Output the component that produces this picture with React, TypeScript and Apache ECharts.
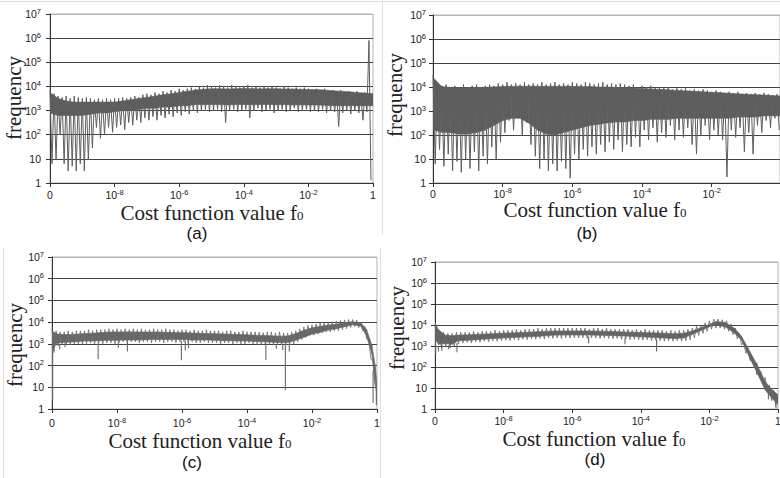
import React, { useEffect, useRef } from 'react';
import * as echarts from 'echarts';

// ---------- texts ----------
const xTickLabels = ['0', '10^-8', '10^-6', '10^-4', '10^-2', '1'];
const yTickLabels = ['1', '10', '10^2', '10^3', '10^4', '10^5', '10^6', '10^7'];
const panelLabels = ['(a)', '(b)', '(c)', '(d)'];
const xTitleMain = 'Cost function value f';
const xTitleSub = '0';
const yTitle = 'frequency';

// ---------- panel (a) ----------
const aSpikeHi = [7100, 5000, 4000, 3500, 4000, 3200, 4000, 3500, 3200, 3500,
  3200, 2800, 3200, 2800, 3200, 2800, 3200, 3200, 3500, 3200,
  3500, 4000, 3500, 4500, 5000, 4500, 5600, 5000, 6300, 5600,
  7100, 6300, 8000, 7100, 8000, 8900, 8000, 10000, 8900, 11200,
  10000, 8900, 11200, 10000, 8900, 11200, 10000, 8900, 10000, 11200,
  8900, 10000, 8900, 10000, 8900, 10000, 8900, 8000, 10000, 8900,
  8000, 8900, 8000, 8900, 8000, 7100, 8000, 7100, 8000, 6300,
  7100, 6300, 7100, 5600, 6300, 5600, 6300, 5000, 5600, 800000];
const aSpikeLo = [6.3, 8.9, 100, 6.3, 3.2, 5, 3.2, 6.3, 3.2, 8.9,
  28, 200, 71, 100, 200, 126, 200, 250, 160, 320,
  250, 400, 320, 500, 400, 560, 400, 630, 500, 710,
  560, 800, 630, 890, 710, 1000, 800, 1000, 1120, 890,
  1000, 1120, 890, 320, 1000, 1120, 890, 1000, 1120, 500,
  1000, 1260, 890, 1000, 1120, 800, 1000, 1120, 890, 1000,
  1260, 890, 1000, 1120, 890, 1000, 890, 1120, 800, 1000,
  890, 220, 800, 1000, 710, 1000, 800, 400, 890, 1.3];
const aCoreLo = [800, 630, 630, 630, 630, 710, 800, 800, 890, 1000,
  1000, 1120, 1260, 1260, 1410, 1410, 1580, 1580, 1780, 1780,
  1780, 1780, 1700, 1780, 1800, 1750, 1780, 1800, 1750, 1780,
  1700, 1750, 1700, 1700, 1650, 1600, 1600, 1600, 1580, 1580,
  1580];
const aCoreHi = [5600, 3200, 2500, 2240, 2240, 2240, 2240, 2240, 2240, 2500,
  2800, 3200, 3500, 4000, 4500, 5000, 5600, 6300, 7100, 7600,
  8000, 8000, 7800, 8000, 8200, 8000, 7900, 8000, 8000, 7800,
  7800, 7600, 7500, 7400, 7100, 6700, 6300, 6000, 5600, 5300,
  5000];

// ---------- panel (b) ----------
const bSpikeHi = [32000, 14100, 11200, 12600, 10000, 11200, 10000, 12600, 10000, 11200,
  12600, 10000, 11200, 12600, 11200, 14100, 12600, 15800, 12600, 14100,
  12600, 15800, 12600, 14100, 12600, 15800, 12600, 14100, 15800, 12600,
  14100, 12600, 15800, 14100, 12600, 15800, 14100, 12600, 14100, 15800,
  12600, 14100, 12600, 14100, 12600, 11200, 12600, 10000, 11200, 10000,
  11200, 8900, 10000, 8900, 10000, 8000, 8900, 8000, 8900, 7100,
  8000, 7100, 8000, 7100, 6300, 7100, 6300, 5600, 6300, 5600,
  6300, 5000, 5600, 5000, 5600, 5000, 5600, 5000, 4500, 5000];
const bSpikeLo = [6.3, 25, 5, 16, 3.2, 8, 2.8, 10, 4, 20,
  3.2, 13, 6.3, 32, 10, 50, 126, 400, 160, 500,
  100, 320, 40, 13, 4, 10, 3.2, 6.3, 3.2, 8,
  4, 1.6, 16, 10, 25, 13, 32, 16, 40, 20,
  50, 25, 63, 20, 40, 32, 80, 32, 160, 63,
  200, 50, 126, 80, 250, 63, 160, 80, 200, 40,
  16, 100, 250, 63, 160, 100, 63, 1.8, 160, 80,
  200, 20, 126, 16, 250, 126, 400, 200, 500, 160];
const bCoreLo = [160, 130, 126, 110, 110, 126, 160, 250, 400, 500,
  500, 320, 160, 110, 100, 126, 160, 200, 250, 280,
  320, 350, 350, 400, 400, 450, 450, 450, 500, 500,
  500, 500, 500, 500, 500, 560, 560, 560, 630, 630,
  630];
const bCoreHi = [25000, 10500, 9500, 9500, 9500, 9500, 9500, 10000, 10500, 10700,
  10700, 10700, 10700, 10700, 10700, 10700, 10700, 10500, 10500, 10000,
  10000, 9500, 9300, 9100, 8700, 8300, 8000, 7600, 7200, 6900,
  6600, 6300, 6000, 5800, 5500, 5200, 5000, 4800, 4600, 4400,
  4200];

// ---------- panel (c) ----------
const cCoreX = [0, 0.06, 0.125, 0.25, 0.375, 0.5, 0.625, 0.75, 0.875, 1.0,
  1.125, 1.25, 1.375, 1.5, 1.625, 1.75, 1.875, 2.0, 2.125, 2.25,
  2.375, 2.5, 2.625, 2.75, 2.875, 3.0, 3.125, 3.25, 3.375, 3.5,
  3.625, 3.75, 3.875, 4.0, 4.125, 4.25, 4.375, 4.5, 4.625, 4.75,
  4.84, 4.92, 4.97, 5.0];
const cCoreLo = [400, 1000, 1150, 1200, 1250, 1350, 1350, 1400, 1450, 1450,
  1500, 1500, 1500, 1600, 1600, 1600, 1600, 1600, 1500, 1500,
  1500, 1450, 1400, 1400, 1350, 1350, 1300, 1250, 1200, 1150,
  1150, 1450, 2000, 2800, 3400, 4300, 5000, 6200, 7500, 6600,
  2300, 350, 22, 1.8];
const cCoreHi = [4000, 3000, 2700, 2700, 2800, 3000, 3100, 3300, 3500, 3550,
  3550, 3550, 3500, 3500, 3500, 3400, 3300, 3300, 3200, 3100,
  3000, 2950, 2850, 2750, 2700, 2650, 2500, 2450, 2350, 2250,
  2300, 3000, 4200, 5500, 6400, 7300, 8000, 9400, 10300, 9400,
  4600, 900, 110, 15];
const cNoiseHi = [5000, 4000, 3550, 3550, 4000, 3550, 4000, 4000, 4000, 4500,
  4000, 4500, 4500, 4500, 5000, 4500, 5000, 4500, 5000, 4500,
  5000, 4500, 5000, 4500, 4500, 5000, 4500, 4500, 5000, 4500,
  4500, 4000, 4500, 4500, 4000, 4500, 4000, 4000, 4500, 4000,
  4000, 4000, 3550, 4000, 4000, 3550, 3550, 4000, 3550, 3550,
  3550, 3550, 3200, 3550, 3550, 3200, 3550, 3200, 3200, 3550,
  4000, 4800, 6000, 7100, 7600, 8300, 9100, 9500, 10000, 10500,
  11200, 12000, 12600, 13200, 13200, 12600, 10000, 6300, 1600, 160];
const cNoiseLo = [400, 800, 900, 1000, 900, 1000, 1000, 900, 1000, 1120,
  1000, 1120, 1000, 1120, 1120, 1000, 1120, 1260, 1120, 1260,
  1260, 1120, 1260, 1260, 1120, 1260, 1260, 1120, 1260, 1260,
  1120, 1260, 1260, 1120, 1260, 1120, 1120, 1260, 1120, 1120,
  1120, 1000, 1120, 1120, 1000, 1120, 1000, 1000, 1120, 1000,
  1000, 890, 1000, 1000, 890, 1000, 890, 890, 890, 1000,
  1260, 1600, 2000, 2500, 2500, 2800, 3200, 3550, 3550, 4000,
  4000, 4500, 5000, 5600, 6300, 5600, 4000, 1600, 200, 12];
const cDipX = [0.01, 0.12, 0.2, 0.71, 1.02, 1.16, 1.99, 2.05, 2.1, 3.29, 3.45, 3.55, 3.59, 3.65, 4.94, 4.99];
const cDipLow = [2.5, 560, 700, 195, 660, 440, 175, 500, 620, 180, 600, 520, 7.5, 450, 1.9, 1.5];
const cDipTop = [1000, 1000, 1100, 1200, 1300, 1300, 1400, 1400, 1300, 1100, 1000, 1000, 1000, 1000, 60, 5];

// ---------- panel (d) ----------
const dCoreX = [0, 0.05, 0.15, 0.25, 0.34, 0.5, 0.75, 1.0, 1.25, 1.5,
  1.75, 2.0, 2.25, 2.5, 2.75, 3.0, 3.25, 3.5, 3.625, 3.75,
  3.875, 4.0, 4.1, 4.23, 4.37, 4.47, 4.59, 4.71, 4.81, 4.91, 5.0];
const dCoreLo = [2400, 1200, 1300, 1200, 1800, 1900, 2150, 2400, 2650, 2900,
  3300, 3350, 3350, 3200, 3000, 2750, 2500, 2300, 2400, 3600,
  5400, 8300, 10000, 8300, 4100, 1900, 260, 42, 8.4, 3.3, 1.6];
const dCoreHi = [13000, 5900, 3300, 3100, 3300, 3400, 3750, 4100, 4400, 4800,
  5200, 5200, 5200, 5000, 4700, 4400, 4200, 3800, 4000, 5200,
  7400, 10700, 14500, 13200, 6900, 2800, 550, 104, 21, 8.3, 4.8];
const dNoiseHi = [10000, 5600, 4500, 4000, 4000, 4500, 4500, 4500, 4500, 5000,
  4500, 5000, 5000, 5000, 5600, 5000, 5600, 5600, 5600, 6300,
  5600, 6300, 6300, 6300, 7100, 6300, 7100, 7100, 7100, 7100,
  7100, 7100, 7100, 7100, 7100, 7100, 6300, 7100, 7100, 6300,
  7100, 6300, 6300, 6300, 6300, 6300, 5600, 6300, 5600, 6300,
  5600, 5600, 5600, 5600, 5000, 5600, 5000, 5600, 5600, 6300,
  7100, 8900, 10000, 12600, 15800, 19000, 19000, 17800, 15800, 11200,
  7100, 4000, 1600, 800, 320, 160, 63, 32, 14, 8];
const dNoiseLo = [1600, 800, 900, 800, 1000, 1250, 1400, 1500, 1400, 1600,
  1500, 1700, 1600, 1800, 1700, 1800, 1900, 1800, 2000, 1900,
  2100, 2000, 2200, 2100, 2300, 2200, 2400, 2300, 2400, 2300,
  2500, 2400, 2500, 2400, 2500, 2300, 2500, 2400, 2300, 2400,
  2300, 2200, 2300, 2100, 2200, 2000, 2100, 2000, 1900, 2000,
  1800, 1900, 1800, 1700, 1800, 1700, 1800, 1700, 1800, 2000,
  2500, 3200, 4000, 5000, 6300, 7100, 7100, 6300, 5000, 3500,
  2200, 1100, 450, 200, 90, 40, 16, 6, 2.5, 1.3];
const dDipX = [0.01, 0.05, 0.1, 0.2, 0.32, 2.24, 2.77, 3.23, 4.69, 4.86, 4.97];
const dDipLow = [400, 550, 600, 700, 500, 1350, 1200, 550, 43, 2.8, 1.1];
const dDipTop = [2000, 1000, 1100, 1100, 1400, 2800, 2500, 2100, 150, 10, 3];

// ---------- styling ----------
const SANS = '"Liberation Sans", Arial, sans-serif';
const SERIF = '"Liberation Serif", "Times New Roman", serif';
const BIN = 0.0625;

const grids = [
  { left: 50, top: 14, width: 323, height: 169 },
  { left: 433, top: 15, width: 347, height: 168 },
  { left: 52, top: 257, width: 325, height: 152 },
  { left: 435, top: 262, width: 343, height: 147 },
];
const xMaxes = [5, 4.98, 5, 5];
const xLabelMargins = [5, 3.5, 7, 5];
const yLabelMargins = [9, 7, 8, 8];
const dataColors = ['#5e5e5e', '#5e5e5e', '#686868', '#656565'];
const xTitlePos = [[212, 213], [595, 210], [200, 441], [594, 439]];
const yTitlePos = [[14, 98], [395, 95], [15, 345], [397, 328]];
const panelLabelPos = [[197, 233], [587, 233], [192, 462], [595, 459]];

function fmtTick(s: string) {
  const parts = s.split('^');
  if (parts.length === 1) return `{b|${parts[0]}}`;
  return `{b|${parts[0]}}{s|${parts[1]}}`;
}

const tickRich = {
  b: { fontSize: 10.5, lineHeight: 14, fontFamily: SANS, color: '#222' },
  s: { fontSize: 7.5, lineHeight: 7, verticalAlign: 'top', fontFamily: SANS, color: '#222' },
};

function bandSeries(g: number, xs: number[], lo: number[], hi: number[], color: string) {
  const data = xs.map((x, i) => [x, lo[i], hi[i]]);
  return {
    type: 'custom',
    xAxisIndex: g,
    yAxisIndex: g,
    clip: true,
    silent: true,
    data,
    encode: { x: 0, y: [1, 2] },
    renderItem: (params: any, api: any) => {
      const i = params.dataIndex;
      if (i >= data.length - 1) return null;
      const cur = data[i];
      const nxt = data[i + 1];
      const p1 = api.coord([cur[0], cur[2]]);
      const p2 = api.coord([nxt[0], nxt[2]]);
      const p3 = api.coord([nxt[0], nxt[1]]);
      const p4 = api.coord([cur[0], cur[1]]);
      return {
        type: 'polygon',
        shape: { points: [p1, p2, p3, p4] },
        style: { fill: color, stroke: color, lineWidth: 0.6 },
      };
    },
  };
}

// zigzag trace: each bin goes up to its high reading, then down to its low reading
function zigzagSeries(g: number, lo: number[], hi: number[], color: string, w: number) {
  const data: number[][] = [];
  lo.forEach((l, i) => {
    data.push([i * BIN, hi[i]]);
    data.push([(i + 0.5) * BIN, l]);
  });
  return {
    type: 'line',
    xAxisIndex: g,
    yAxisIndex: g,
    data,
    symbol: 'none',
    showSymbol: false,
    clip: true,
    silent: true,
    lineStyle: { color, width: w },
  };
}

function dipSeries(g: number, xs: number[], lo: number[], top: number[], color: string, w: number) {
  const data = xs.map((x, i) => [x, lo[i], top[i]]);
  return {
    type: 'custom',
    xAxisIndex: g,
    yAxisIndex: g,
    clip: true,
    silent: true,
    data,
    encode: { x: 0, y: [1, 2] },
    renderItem: (params: any, api: any) => {
      const a = api.coord([api.value(0), api.value(1)]);
      const b = api.coord([api.value(0), api.value(2)]);
      return {
        type: 'line',
        shape: { x1: a[0], y1: a[1], x2: b[0], y2: b[1] },
        style: { stroke: color, lineWidth: w },
      };
    },
  };
}

const coreStepX = (n: number) => Array.from({ length: n }, (_, i) => i * 0.125);

export default function App() {
  const ref = useRef<HTMLDivElement>(null);

  useEffect(() => {
    document.body.style.margin = '0';
    if (!ref.current) return;
    const chart = echarts.init(ref.current, undefined, { renderer: 'svg' });

    const xAxes = grids.map((_, g) => ({
      gridIndex: g,
      type: 'value',
      min: 0,
      max: xMaxes[g],
      interval: 1,
      axisLine: { show: true, onZero: false, lineStyle: { color: '#333', width: 1 } },
      axisTick: { show: true, length: 4, lineStyle: { color: '#333' } },
      splitLine: { show: false },
      axisLabel: {
        margin: xLabelMargins[g],
        lineHeight: 14,
        showMaxLabel: g !== 1,
        formatter: (v: number) => {
          const k = Math.round(v);
          if (Math.abs(v - k) > 1e-6 || k < 0 || k >= xTickLabels.length) return '';
          return fmtTick(xTickLabels[k]);
        },
        rich: tickRich,
      },
    }));

    const yAxes = grids.map((_, g) => ({
      gridIndex: g,
      type: 'log',
      logBase: 10,
      min: 1,
      max: 10000000,
      axisLine: { show: true, lineStyle: { color: '#333', width: 1 } },
      axisTick: { show: true, length: 4, lineStyle: { color: '#333' } },
      splitLine: {
        show: true,
        lineStyle: {
          color: ['#333', '#444', '#444', '#444', '#444', '#444', '#444', '#b4b4b4'],
          width: 1,
        },
      },
      axisLabel: {
        margin: yLabelMargins[g],
        lineHeight: 14,
        formatter: (v: number) => {
          const k = Math.round(Math.log10(v));
          return fmtTick(yTickLabels[k] ?? '');
        },
        rich: tickRich,
      },
    }));

    const series: any[] = [
      bandSeries(0, coreStepX(aCoreLo.length), aCoreLo, aCoreHi, dataColors[0]),
      zigzagSeries(0, aSpikeLo, aSpikeHi, dataColors[0], 1),
      bandSeries(1, coreStepX(bCoreLo.length), bCoreLo, bCoreHi, dataColors[1]),
      zigzagSeries(1, bSpikeLo, bSpikeHi, dataColors[1], 1),
      bandSeries(2, cCoreX, cCoreLo, cCoreHi, dataColors[2]),
      zigzagSeries(2, cNoiseLo, cNoiseHi, dataColors[2], 0.8),
      dipSeries(2, cDipX, cDipLow, cDipTop, dataColors[2], 1.1),
      bandSeries(3, dCoreX, dCoreLo, dCoreHi, dataColors[3]),
      zigzagSeries(3, dNoiseLo, dNoiseHi, dataColors[3], 0.8),
      dipSeries(3, dDipX, dDipLow, dDipTop, dataColors[3], 1.1),
    ];

    const graphics: any[] = [];
    const faint = { stroke: '#dedede', lineWidth: 1 };
    graphics.push({ type: 'line', shape: { x1: 0, y1: 1.5, x2: 780, y2: 1.5 }, style: faint, silent: true });
    graphics.push({ type: 'line', shape: { x1: 382.5, y1: 0, x2: 382.5, y2: 235 }, style: faint, silent: true });
    graphics.push({ type: 'line', shape: { x1: 3.5, y1: 248, x2: 3.5, y2: 478 }, style: faint, silent: true });
    graphics.push({ type: 'line', shape: { x1: 380.5, y1: 248, x2: 380.5, y2: 478 }, style: faint, silent: true });

    for (let g = 0; g < 4; g++) {
      graphics.push({
        type: 'text',
        x: xTitlePos[g][0],
        y: xTitlePos[g][1],
        silent: true,
        style: {
          text: `{m|${xTitleMain}}{u|${xTitleSub}}`,
          align: 'center',
          verticalAlign: 'middle',
          textAlign: 'center',
          textVerticalAlign: 'middle',
          rich: {
            m: { fontSize: 21, fontFamily: SERIF, lineHeight: 18, fill: '#222', color: '#222' },
            u: { fontSize: 13, fontFamily: SERIF, lineHeight: 6, verticalAlign: 'bottom', fill: '#222', color: '#222' },
          },
        },
      });
      graphics.push({
        type: 'text',
        x: yTitlePos[g][0],
        y: yTitlePos[g][1],
        rotation: Math.PI / 2,
        silent: true,
        style: {
          text: yTitle,
          fontSize: 21,
          fontFamily: SERIF,
          fill: '#222',
          align: 'center',
          verticalAlign: 'middle',
          textAlign: 'center',
          textVerticalAlign: 'middle',
        },
      });
      graphics.push({
        type: 'text',
        x: panelLabelPos[g][0],
        y: panelLabelPos[g][1],
        silent: true,
        style: {
          text: panelLabels[g],
          fontSize: 17,
          fontFamily: SANS,
          fill: '#111',
          align: 'center',
          verticalAlign: 'middle',
          textAlign: 'center',
          textVerticalAlign: 'middle',
        },
      });
    }

    chart.setOption({
      animation: false,
      backgroundColor: '#ffffff',
      grid: grids.map((gr) => ({
        ...gr,
        show: true,
        borderColor: '#b4b4b4',
        borderWidth: 1,
        backgroundColor: 'transparent',
        containLabel: false,
        outerBoundsMode: 'none',
      })),
      xAxis: xAxes,
      yAxis: yAxes,
      series,
      graphic: graphics,
    });

    return () => {
      chart.dispose();
    };
  }, []);

  return <div ref={ref} style={{ width: 780, height: 478 }} />;
}
